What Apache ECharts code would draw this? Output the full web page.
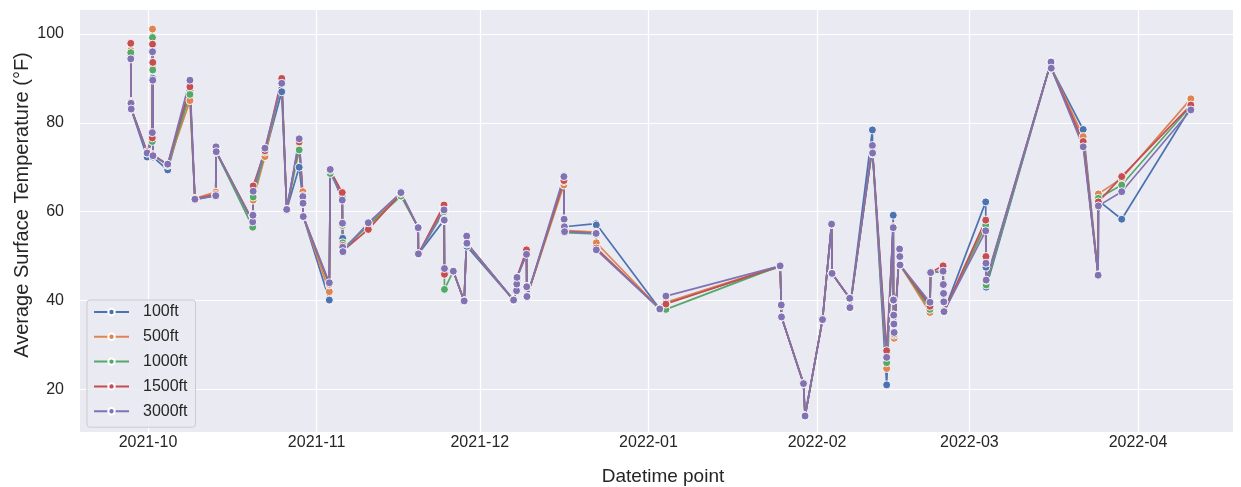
<!DOCTYPE html>
<html>
<head>
<meta charset="utf-8">
<title>Average Surface Temperature by Depth</title>
<script src="https://cdn.jsdelivr.net/npm/echarts@6/dist/echarts.min.js"></script>
<style>
  html, body { margin: 0; padding: 0; background: #ffffff; }
  #chart { width: 1241px; height: 487px; }
</style>
</head>
<body>
<div id="chart"></div>
<script>
// Measurement timestamps (several readings can share one day)
const times = [
  '2021-09-27 20:00', '2021-09-27 21:00', '2021-09-27 22:00', '2021-09-30 20:00',
  '2021-10-01 19:00', '2021-10-01 20:00', '2021-10-01 21:00', '2021-10-01 22:00',
  '2021-10-04 15:00', '2021-10-08 17:00', '2021-10-09 15:00', '2021-10-13 11:00',
  '2021-10-13 12:00', '2021-10-13 13:00', '2021-10-20 06:00', '2021-10-20 07:00',
  '2021-10-20 08:00', '2021-10-22 12:00', '2021-10-25 14:00', '2021-10-26 12:00',
  '2021-10-28 19:00', '2021-10-29 11:00', '2021-10-29 12:00', '2021-10-29 13:00',
  '2021-11-03 08:00', '2021-11-03 12:00', '2021-11-05 17:00', '2021-11-05 18:00',
  '2021-11-05 19:00', '2021-11-05 20:00', '2021-11-10 12:00', '2021-11-16 12:00',
  '2021-11-19 16:00', '2021-11-19 17:00', '2021-11-24 10:00', '2021-11-24 11:00',
  '2021-11-24 12:00', '2021-11-26 03:00', '2021-11-28 03:00', '2021-11-28 14:00',
  '2021-11-28 15:00', '2021-12-07 05:00', '2021-12-07 18:00', '2021-12-07 19:00',
  '2021-12-07 20:00', '2021-12-09 14:00', '2021-12-09 15:00', '2021-12-09 16:00',
  '2021-12-16 11:00', '2021-12-16 12:00', '2021-12-16 13:00', '2021-12-16 14:00',
  '2021-12-22 09:00', '2021-12-22 10:00', '2022-01-03 02:00', '2022-01-04 05:00',
  '2022-01-25 05:00', '2022-01-25 10:00', '2022-01-25 11:00', '2022-01-29 12:00',
  '2022-01-29 19:00', '2022-02-02 00:00', '2022-02-03 16:00', '2022-02-03 18:00',
  '2022-02-07 00:00', '2022-02-07 01:00', '2022-02-11 04:00', '2022-02-11 05:00',
  '2022-02-13 19:00', '2022-02-15 00:00', '2022-02-15 01:00', '2022-02-15 02:00',
  '2022-02-15 03:00', '2022-02-15 04:00', '2022-02-16 04:00', '2022-02-16 05:00',
  '2022-02-16 06:00', '2022-02-21 18:00', '2022-02-21 21:00', '2022-02-24 04:00',
  '2022-02-24 05:00', '2022-02-24 06:00', '2022-02-24 07:00', '2022-02-24 08:00',
  '2022-03-04 00:00', '2022-03-04 01:00', '2022-03-04 02:00', '2022-03-16 00:00',
  '2022-03-16 01:00', '2022-03-21 22:00', '2022-03-24 16:00', '2022-03-24 17:00',
  '2022-03-29 00:00', '2022-04-10 17:00'
];

// Average surface temperature (°F) per depth
const temp100ft = [
  95.2, 84.0, 83.0, 72.3, 77.0, 96.3, 90.0, 72.3, 69.4, 87.2, 62.7, 63.6,
  74.4, 73.4, 57.6, 59.1, 63.4, 73.0, 87.0, 60.5, 70.0, 62.6, 61.9, 58.9,
  40.1, 69.3, 63.0, 57.2, 54.0, 51.5, 57.2, 64.1, 56.4, 50.5, 58.1, 58.1,
  47.0, 46.6, 39.9, 54.5, 52.2, 40.1, 42.2, 43.7, 45.2, 50.5, 43.1, 40.9,
  67.2, 58.3, 56.6, 56.8, 57.3, 57.0, 38.1, 39.4, 47.6, 39.0, 36.3, 21.3,
  14.0, 35.7, 57.2, 46.1, 40.5, 38.4, 78.4, 73.3, 21.0, 59.2, 40.1, 36.7,
  34.7, 32.8, 51.6, 49.9, 48.0, 39.0, 46.3, 46.5, 43.6, 41.6, 39.7, 37.5,
  62.2, 47.5, 43.0, 93.7, 92.3, 78.5, 45.7, 62.5, 58.3, 83.5
];
const temp500ft = [
  96.3, 84.8, 83.2, 73.4, 76.6, 101.1, 92.4, 72.8, 70.4, 85.0, 63.0, 64.4,
  74.3, 73.5, 57.8, 59.3, 62.6, 72.4, 89.4, 60.5, 75.4, 64.5, 61.9, 58.9,
  42.0, 69.2, 64.0, 57.3, 52.6, 51.4, 56.9, 64.0, 56.4, 50.5, 61.0, 58.1,
  46.4, 46.6, 39.9, 54.5, 52.7, 40.1, 42.2, 43.7, 45.2, 51.0, 43.1, 40.9,
  66.0, 58.3, 56.6, 55.8, 55.4, 53.0, 38.1, 39.6, 47.8, 39.0, 36.3, 21.3,
  14.0, 35.7, 57.2, 46.1, 40.5, 38.4, 74.5, 73.2, 24.7, 56.5, 40.1, 36.7,
  34.7, 31.5, 51.6, 49.9, 48.0, 37.3, 46.3, 46.8, 43.6, 41.6, 39.7, 37.5,
  56.8, 48.5, 44.0, 93.7, 92.3, 76.9, 45.7, 64.0, 67.5, 85.4
];
const temp1000ft = [
  95.8, 84.5, 83.1, 73.2, 75.8, 99.2, 91.9, 72.7, 70.5, 86.4, 62.8, 63.8,
  74.5, 73.4, 56.5, 59.0, 63.3, 73.4, 89.0, 60.5, 73.9, 63.4, 61.9, 58.9,
  43.5, 68.6, 63.5, 56.9, 53.0, 51.6, 56.8, 63.5, 56.4, 50.5, 60.0, 58.1,
  42.5, 46.6, 39.9, 54.5, 52.8, 40.1, 42.2, 43.7, 45.2, 50.8, 43.1, 40.9,
  66.8, 58.3, 56.6, 55.3, 55.0, 51.6, 38.1, 38.0, 47.8, 39.0, 36.3, 21.3,
  14.0, 35.7, 57.2, 46.1, 40.5, 38.4, 74.2, 73.0, 26.0, 56.6, 40.1, 36.7,
  34.7, 32.2, 51.6, 49.9, 48.0, 38.0, 46.3, 46.5, 43.6, 41.6, 39.7, 37.5,
  57.0, 48.8, 43.5, 93.7, 92.3, 75.5, 45.7, 63.0, 66.0, 83.8
];
const temp1500ft = [
  97.9, 84.6, 83.2, 73.5, 76.6, 97.7, 93.6, 72.8, 70.6, 88.1, 62.9, 63.9,
  74.5, 73.5, 57.9, 59.2, 65.8, 73.7, 90.0, 60.5, 75.7, 63.6, 61.9, 58.9,
  43.7, 69.3, 64.3, 57.3, 52.4, 51.2, 56.0, 64.1, 56.4, 50.5, 61.5, 58.1,
  45.9, 46.6, 39.9, 54.5, 52.9, 40.1, 42.2, 43.7, 45.2, 51.4, 43.1, 40.9,
  67.0, 58.3, 56.6, 55.5, 55.2, 51.8, 38.1, 39.2, 47.8, 39.0, 36.3, 21.3,
  14.0, 35.7, 57.2, 46.1, 40.5, 38.4, 74.6, 73.2, 28.7, 56.6, 40.1, 36.7,
  34.7, 32.5, 51.6, 49.9, 48.0, 38.7, 46.3, 47.8, 43.6, 41.6, 39.7, 37.5,
  58.1, 49.9, 44.5, 93.7, 92.3, 75.8, 45.7, 62.2, 67.9, 84.0
];
const temp3000ft = [
  94.4, 84.4, 83.1, 73.2, 77.8, 96.0, 89.6, 72.6, 70.7, 89.6, 62.8, 63.6,
  74.6, 73.5, 57.7, 59.2, 64.6, 74.3, 88.9, 60.5, 76.4, 63.4, 61.9, 58.9,
  44.0, 69.5, 62.6, 57.4, 52.0, 51.0, 57.5, 64.3, 56.4, 50.5, 60.4, 58.1,
  47.2, 46.6, 39.9, 54.5, 52.9, 40.1, 42.2, 43.7, 45.2, 50.4, 43.1, 40.9,
  67.9, 58.3, 56.6, 55.5, 55.1, 51.4, 38.1, 41.0, 47.8, 39.0, 36.3, 21.3,
  14.0, 35.7, 57.2, 46.1, 40.5, 38.4, 74.9, 73.2, 27.2, 56.4, 40.1, 36.7,
  34.7, 32.8, 51.6, 49.9, 48.0, 39.6, 46.3, 46.6, 43.6, 41.6, 39.7, 37.5,
  55.7, 48.4, 44.6, 93.7, 92.3, 74.6, 45.7, 61.3, 64.5, 82.9
];

const depthNames = ['100ft', '500ft', '1000ft', '1500ft', '3000ft'];
const depthColors = ['#4C72B0', '#DD8452', '#55A868', '#C44E52', '#8172B3'];

// Axis ticks and titles
const monthTicks = ['2021-10-01', '2021-11-01', '2021-12-01', '2022-01-01',
                    '2022-02-01', '2022-03-01', '2022-04-01'];
const tempTicks = [20, 40, 60, 80, 100];
const xTitle = 'Datetime point';
const yTitle = 'Average Surface Temperature (°F)';

function toMs(s) {
  const [d, t] = s.split(' ');
  const [y, m, day] = d.split('-').map(Number);
  const [hh, mm] = (t || '00:00').split(':').map(Number);
  return new Date(y, m - 1, day, hh, mm).getTime();
}

const seriesValues = [temp100ft, temp500ft, temp1000ft, temp1500ft, temp3000ft];
const FONT = '"Liberation Sans", Arial, sans-serif';
const TEXT = '#262626';
const monthMs = monthTicks.map(toMs);

const chart = echarts.init(document.getElementById('chart'), null, { renderer: 'canvas' });

chart.setOption({
  animation: false,
  backgroundColor: '#ffffff',
  textStyle: { fontFamily: FONT },
  grid: {
    left: 80, right: 8, top: 10, bottom: 55,
    show: true, backgroundColor: '#EAEAF2', borderWidth: 0
  },
  graphic: [
    {
      type: 'text', x: 663, y: 477, z: 10,
      style: { text: xTitle, fontSize: 19, fill: TEXT, fontFamily: FONT, align: 'center', verticalAlign: 'middle' }
    },
    {
      type: 'text', x: 22, y: 205, rotation: Math.PI / 2, z: 10,
      style: { text: yTitle, fontSize: 20, fill: TEXT, fontFamily: FONT, align: 'center', verticalAlign: 'middle' }
    }
  ],
  legend: {
    orient: 'vertical',
    left: 87, top: 300,
    data: depthNames,
    itemWidth: 35, itemHeight: 8,
    itemGap: 6.8,
    padding: [3, 8, 7, 6],
    backgroundColor: 'rgba(234,234,242,0.8)',
    borderColor: '#cccccc', borderWidth: 1, borderRadius: 3,
    textStyle: { fontSize: 16, color: TEXT, fontFamily: FONT, lineHeight: 18, padding: [0, 0, 0, 9] }
  },
  xAxis: {
    type: 'value',
    min: toMs('2021-09-18 12:00'),
    max: toMs('2022-04-18 11:00'),
    axisLine: { show: false },
    axisTick: { show: false, customValues: monthMs },
    axisLabel: {
      customValues: monthMs,
      fontSize: 16, color: TEXT, fontFamily: FONT, margin: 3,
      formatter: function (v) {
        const d = new Date(v);
        return d.getFullYear() + '-' + String(d.getMonth() + 1).padStart(2, '0');
      }
    },
    splitLine: { show: true, lineStyle: { color: '#ffffff', width: 1.2 } }
  },
  yAxis: {
    type: 'value',
    min: 10.4, max: 105.4,
    axisLine: { show: false },
    axisTick: { show: false, customValues: tempTicks },
    axisLabel: {
      customValues: tempTicks,
      fontSize: 16, color: TEXT, fontFamily: FONT, margin: 16
    },
    splitLine: { show: true, lineStyle: { color: '#ffffff', width: 1.2 } }
  },
  series: depthNames.map((name, k) => ({
    name: name,
    type: 'line',
    data: times.map((t, i) => [toMs(t), seriesValues[k][i]]),
    symbol: 'circle',
    symbolSize: 8,
    showAllSymbol: true,
    color: depthColors[k],
    lineStyle: { width: 1.7, color: depthColors[k] },
    itemStyle: { color: depthColors[k], borderColor: '#ffffff', borderWidth: 0.9 },
    emphasis: { disabled: true }
  }))
});
</script>
</body>
</html>
